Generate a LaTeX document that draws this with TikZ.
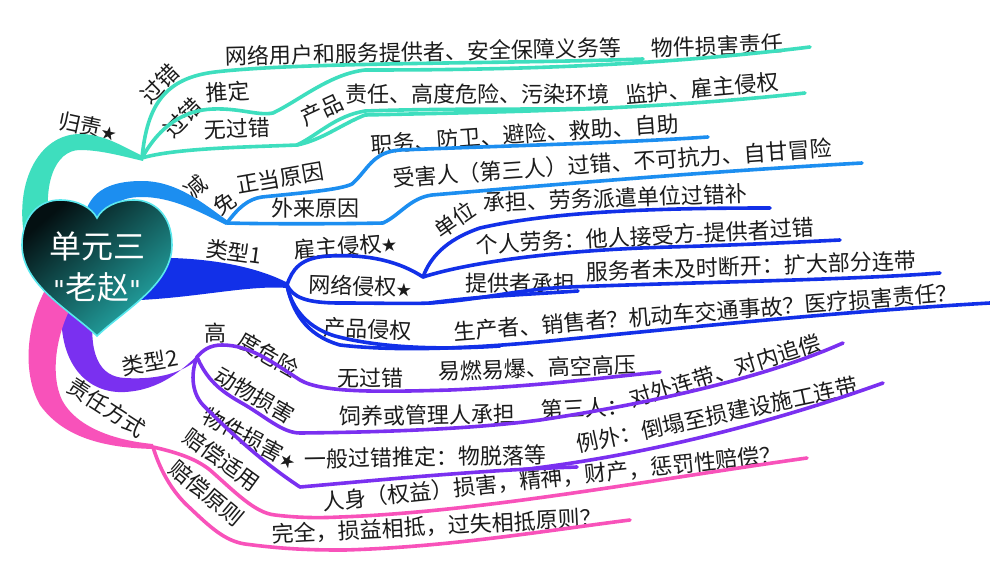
\documentclass[tikz,border=0pt]{standalone}
\usepackage{fontspec}
\setmainfont{Noto Sans CJK SC}
\newfontfamily\quotefont{DejaVu Sans}
\definecolor{cTeal}{RGB}{62,222,190}
\definecolor{cSky}{RGB}{28,142,240}
\definecolor{cBlue}{RGB}{18,48,232}
\definecolor{cViolet}{RGB}{122,48,240}
\definecolor{cPink}{RGB}{248,82,186}
\definecolor{cInk}{RGB}{28,28,28}
\definecolor{cHeartA}{RGB}{4,16,18}
\definecolor{cHeartB}{RGB}{36,172,170}
\definecolor{cHeartEdge}{RGB}{90,232,238}
\newcommand\bstar{{\fontsize{15}{15}\selectfont ★}}
\newcommand\sq{{\quotefont\fontsize{26}{28}\selectfont "}}
\begin{document}
\begin{tikzpicture}[x=1pt,y=-1pt,
  lbl/.style={font=\fontsize{22}{26}\selectfont, inner sep=0pt, text=cInk},
  br/.style={line width=3.6pt, line cap=round, line join=round},
  hearttext/.style={font=\fontsize{32}{34}\selectfont, inner sep=0pt, text=white}]
\fill[white] (0,0) rectangle (990,567);
\useasboundingbox (0,0) rectangle (990,567);

% ---------- junction points ----------
\coordinate (G) at (142,158);
\coordinate (B) at (227,223);
\coordinate (D) at (287,285);
\coordinate (P) at (197,357);
\coordinate (K) at (153,447);

% ---------- labels ----------
% 归责
\node[lbl, rotate=-12] (gz) at (88,126) {归责\bstar};
\node[lbl, rotate=45] (gc) at (160,84) {过错};
\node[lbl, rotate=45] (gt1) at (183,118) {过错};
\node[lbl, rotate=4] (gt2) at (228,92) {推定};
\node[lbl, rotate=2] (wgc) at (237,129) {无过错};
\node[lbl, rotate=1.3] (wl) at (423,52) {网络用户和服务提供者、安全保障义务等};
\node[lbl, rotate=2] (wj) at (717,46) {物件损害责任};
\node[lbl, rotate=25] (cp1) at (322,110) {产品};
\node[lbl] (cp2) at (477,94) {责任、高度危险、污染环境};
\node[lbl, rotate=5] (jh) at (702,88) {监护、雇主侵权};
% 减免正当原因
\node[lbl, rotate=40] (jm1) at (196,187) {减};
\node[lbl, rotate=35] (jm2) at (225,203) {免};
\node[lbl, rotate=10] (jm3) at (280,178) {正当原因};
\node[lbl] (wly) at (315,208) {外来原因};
\node[lbl, rotate=4] (zw) at (525,134) {职务、防卫、避险、救助、自助};
\node[lbl, rotate=4] (sh) at (612,163) {受害人（第三人）过错、不可抗力、自甘冒险};
% 类型1
\node[lbl, rotate=-8] (lx1) at (234,252) {类型1};
\node[lbl, rotate=5] (gzq) at (345,246) {雇主侵权\bstar};
\node[lbl, rotate=-2] (wq) at (360,286) {网络侵权\bstar};
\node[lbl, rotate=-2] (cq) at (368,329) {产品侵权};
\node[lbl, rotate=35] (dw1) at (455,220) {单位};
\node[lbl, rotate=2] (dw2) at (615,198) {承担、劳务派遣单位过错补};
\node[lbl, rotate=3] (gr) at (645,236) {个人劳务：他人接受方-提供者过错};
\node[lbl] (tg) at (520,283) {提供者承担};
\node[lbl, rotate=2] (fw) at (751,266) {服务者未及时断开：扩大部分连带};
\node[lbl, rotate=4.5] (sc) at (706,312) {生产者、销售者？机动车交通事故？医疗损害责任？};
% 类型2
\node[lbl, rotate=10] (lx2) at (150,362) {类型2};
\node[lbl] (gd1) at (215,333) {高};
\node[lbl, rotate=-30] (gd2) at (268,355) {度危险};
\node[lbl, rotate=-30] (dws) at (255,395) {动物损害};
\node[lbl, rotate=-28] (wjs) at (250,438) {物件损害\bstar};
\node[lbl] (wgc2) at (370,378) {无过错};
\node[lbl, rotate=2] (yr) at (537,368) {易燃易爆、高空高压};
\node[lbl, rotate=1] (sy) at (427,415) {饲养或管理人承担};
\node[lbl, rotate=3] (dsr1) at (585,408) {第三人：};
\node[lbl, rotate=17] (dsr2) at (725,371) {对外连带、对内追偿};
\node[lbl, rotate=1] (yb) at (425,457) {一般过错推定：物脱落等};
\node[lbl, rotate=12] (lw) at (717,415) {例外：倒塌至损建设施工连带};
% 责任方式
\node[lbl, rotate=-33] (zr) at (107,407) {责任方式};
\node[lbl, rotate=-36] (pc) at (222,460) {赔偿适用};
\node[lbl, rotate=-40] (pz) at (207,493) {赔偿原则};
\node[lbl, rotate=6] (rs) at (552,478) {人身（权益）损害，精神，财产，惩罚性赔偿？};
\node[lbl, rotate=3] (wqx) at (437,526) {完全，损益相抵，过失相抵原则？};

% ---------- main branches (tapered, starting behind the heart) ----------
\fill[cTeal] (26,245) .. controls (12,185) and (38,134) .. (80,134) .. controls (105,134) and (125,148) .. (143,156) -- (143,161) .. controls (122,156) and (100,150) .. (80,150) .. controls (55,150) and (40,185) .. (52,240) -- cycle;
\fill[cSky] (83,225) .. controls (86,192) and (108,181) .. (142,181) .. controls (178,181) and (205,205) .. (228,221) -- (226,225) .. controls (200,212) and (172,197) .. (142,197) .. controls (118,197) and (108,206) .. (108,228) -- cycle;
\fill[cBlue] (140,258) .. controls (205,256) and (255,266) .. (288,283) -- (287,288) .. controls (250,285) and (200,297) .. (140,300) -- cycle;
\fill[cViolet] (62,300) .. controls (56,365) and (88,394) .. (125,392) .. controls (160,390) and (182,370) .. (198,355) -- (197,360) .. controls (182,372) and (160,380) .. (125,378) .. controls (100,377) and (86,355) .. (95,300) -- cycle;
\fill[cPink] (50,282) .. controls (28,315) and (20,370) .. (40,405) .. controls (65,440) and (110,448) .. (154,449) -- (153,444) .. controls (110,440) and (75,425) .. (62,400) .. controls (50,375) and (55,330) .. (78,295) -- cycle;

% ---------- sub-branches ----------
\coordinate (Ga) at (215,72);
\coordinate (Ge1) at (643,59);
\coordinate (Gb) at (273,113);
\coordinate (Gb2) at (365,70);
\coordinate (Ge2) at (810,47);
\coordinate (Gc) at (297,145);
\coordinate (Gc2) at (365,111);
\coordinate (Ge3) at (612,108);
\coordinate (Ge4) at (805,93);
\draw[br,cTeal] (G) .. controls (147,105) and (165,78) .. (Ga) .. controls (300,62) and (500,64) .. (Ge1);
\draw[br,cTeal] (G) .. controls (160,125) and (185,110) .. (213,109) .. controls (240,108) and (258,116) .. (Gb) .. controls (300,100) and (330,74) .. (Gb2) .. controls (480,70) and (640,68) .. (Ge2);
\draw[br,cTeal] (G) .. controls (175,148) and (250,147) .. (Gc) .. controls (318,135) and (335,116) .. (Gc2) .. controls (450,108) and (540,110) .. (Ge3);
\draw[br,cTeal] (Gc) .. controls (322,140) and (342,124) .. (365,115) .. controls (500,112) and (650,110) .. (Ge4);

\coordinate (Be1) at (708,137);
\coordinate (Ba) at (383,223);
\coordinate (Be2) at (862,163);
\draw[br,cSky] (B) .. controls (238,208) and (248,199) .. (262,197) .. controls (300,193) and (340,190) .. (352,184) .. controls (368,170) and (372,152) .. (400,150) .. controls (500,146) and (620,143) .. (Be1);
\draw[br,cSky] (B) .. controls (260,224) and (340,224) .. (Ba) .. controls (400,215) and (410,198) .. (432,195) .. controls (550,185) and (700,172) .. (Be2);

\coordinate (Da) at (423,277);
\coordinate (De1) at (770,208);
\coordinate (De2) at (840,240);
\coordinate (Db) at (430,303);
\coordinate (De3) at (940,273);
\coordinate (De4) at (578,291);
\coordinate (De5) at (990,303);
\draw[br,cBlue] (D) .. controls (292,270) and (300,257) .. (330,256) .. controls (370,254) and (400,262) .. (Da) .. controls (430,258) and (445,240) .. (480,228) .. controls (550,212) and (650,208) .. (De1);
\draw[br,cBlue] (Da) .. controls (470,262) and (560,250) .. (670,247) .. controls (740,245) and (800,242) .. (De2);
\draw[br,cBlue] (D) .. controls (293,297) and (305,303) .. (340,303) .. controls (380,303) and (410,304) .. (Db) .. controls (480,300) and (520,289) .. (570,287) .. controls (700,282) and (850,280) .. (De3);
\draw[br,cBlue] (Db) .. controls (480,296) and (520,295) .. (De4);
\draw[br,cBlue] (D) .. controls (292,310) and (305,335) .. (340,345) .. controls (400,352) and (480,348) .. (560,340) .. controls (700,326) and (850,311) .. (De5);
\draw[br,cBlue] (D) .. controls (290,302) and (302,326) .. (335,336) .. controls (380,348) and (440,350) .. (500,346);

\coordinate (Pe1) at (660,372);
\coordinate (Pa) at (540,420);
\coordinate (Pe2) at (843,343);
\coordinate (Pb) at (520,470);
\coordinate (Pe3) at (577,467);
\coordinate (Pe4) at (883,383);
\draw[br,cViolet] (P) .. controls (203,350) and (210,345) .. (222,345) .. controls (250,345) and (272,362) .. (300,380) .. controls (322,393) and (380,392) .. (450,390) .. controls (540,386) and (600,378) .. (Pe1);
\draw[br,cViolet] (P) .. controls (205,375) and (215,388) .. (240,402) .. controls (265,416) and (282,433) .. (300,433) .. controls (400,432) and (480,428) .. (Pa) .. controls (640,405) and (760,380) .. (Pe2);
\draw[br,cViolet] (P) .. controls (190,375) and (192,395) .. (205,407) .. controls (230,432) and (262,462) .. (300,487) .. controls (380,480) and (480,470) .. (Pe3);
\draw[br,cViolet] (Pb) .. controls (650,455) and (780,420) .. (Pe4);

\coordinate (Ke1) at (807,458);
\coordinate (Ke2) at (630,520);
\draw[br,cPink] (K) .. controls (175,452) and (195,458) .. (210,470) .. controls (235,492) and (255,513) .. (275,515) .. controls (300,518) and (320,518) .. (340,517) .. controls (480,512) and (650,480) .. (Ke1);
\draw[br,cPink] (K) .. controls (160,470) and (172,492) .. (190,508) .. controls (210,527) and (225,541) .. (245,544) .. controls (290,550) and (320,550) .. (345,550) .. controls (450,547) and (550,530) .. (Ke2);

% ---------- central heart ----------
\shade[top color=cHeartA, bottom color=cHeartB, shading angle=40, draw=cHeartEdge, line width=1.6pt]
  (97,336) .. controls (70,310) and (22,285) .. (22,245)
  .. controls (22,215) and (40,200) .. (60,200)
  .. controls (78,200) and (92,208) .. (97,218)
  .. controls (102,208) and (116,200) .. (134,200)
  .. controls (154,200) and (172,215) .. (172,245)
  .. controls (172,285) and (124,310) .. (97,336) -- cycle;
\node[hearttext] (h1) at (97,246) {单元三};
\node[hearttext] (h2) at (97,287) {\sq 老赵\sq};
\end{tikzpicture}
\end{document}
